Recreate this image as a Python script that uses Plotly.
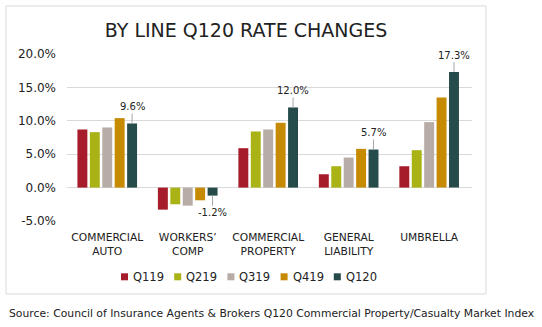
import plotly.graph_objects as go

# Lines of business and quarterly rate changes (%)
categories = ["COMMERCIAL<br>AUTO", "WORKERS’<br>COMP", "COMMERCIAL<br>PROPERTY",
              "GENERAL<br>LIABILITY", "UMBRELLA"]
quarters = ["Q119", "Q219", "Q319", "Q419", "Q120"]
q119 = [8.7, -3.3, 5.9, 2.0, 3.2]
q219 = [8.3, -2.5, 8.4, 3.2, 5.6]
q319 = [9.0, -2.7, 8.7, 4.5, 9.8]
q419 = [10.4, -1.9, 9.7, 5.8, 13.5]
q120 = [9.6, -1.2, 12.0, 5.7, 17.3]
series = [q119, q219, q319, q419, q120]
colors = ["#A61C2B", "#A9B316", "#B7ACA6", "#C68A03", "#264B4B"]
y_ticks = [-5, 0, 5, 10, 15, 20]
y_tick_labels = [f"{v:.1f}%" for v in y_ticks]

title_text = "BY LINE Q120 RATE CHANGES"
source_text = ("Source: Council of Insurance Agents & Brokers Q120 "
               "Commercial Property/Casualty Market Index")

FONT = "DejaVu Sans"
TEXT = "#222222"
GRID = "#D9D9D9"

# Page geometry in pixels
W, H = 542, 327
ML, MR, MT, MB = 67, 70, 54, 106
PW, PH = W - ML - MR, H - MT - MB
BARGAP, GROUPGAP = 0.228, 0.2


def px(x):
    return (x - ML) / PW


def py(y):
    return (H - MB - y) / PH


fig = go.Figure()
for name, vals, col in zip(quarters, series, colors):
    fig.add_trace(go.Bar(x=categories, y=vals, name=name, marker_color=col,
                         marker_line_width=0, showlegend=False))

# Value callouts on the latest quarter, with short leader lines
slot = (1 - BARGAP) / len(quarters)
offset = (len(quarters) - 1) / 2 * slot
annotations = []
for i, v in enumerate(q120):
    annotations.append(dict(
        x=i + offset, y=v, xref="x", yref="y",
        text=f"{v:.1f}%", showarrow=True, arrowhead=0, arrowwidth=1,
        arrowcolor="#A6A6A6", ax=0, ay=-17 if v >= 0 else 17, standoff=0,
        font=dict(family=FONT, size=10, color=TEXT)))

# Legend row
shapes = []
leg_x0, leg_pitch, leg_y = 121, 53.2, 276.8
for k, (name, col) in enumerate(zip(quarters, colors)):
    lx = leg_x0 + k * leg_pitch
    shapes.append(dict(type="rect", xref="paper", yref="paper",
                       x0=px(lx), x1=px(lx + 7), y0=py(leg_y + 3.5), y1=py(leg_y - 3.5),
                       fillcolor=col, line_width=0))
    annotations.append(dict(x=px(lx + 10), y=py(leg_y), xref="paper", yref="paper",
                            xanchor="left", yanchor="middle", showarrow=False,
                            text=name, font=dict(family=FONT, size=11.5, color=TEXT)))

# Chart frame
shapes.append(dict(type="rect", xref="paper", yref="paper",
                   x0=px(6), x1=px(486), y0=py(294), y1=py(6),
                   line=dict(color=GRID, width=1), fillcolor="rgba(0,0,0,0)"))

annotations.append(dict(x=px(7), y=py(313), xref="paper", yref="paper",
                        xanchor="left", yanchor="middle", showarrow=False,
                        text=source_text, font=dict(family=FONT, size=10.8, color=TEXT)))

fig.update_layout(
    width=W, height=H, margin=dict(l=ML, r=MR, t=MT, b=MB),
    paper_bgcolor="white", plot_bgcolor="white",
    barmode="group", bargap=BARGAP, bargroupgap=GROUPGAP,
    title=dict(text=title_text, xref="container", yref="container",
               x=246 / W, y=1 - 30 / H, xanchor="center", yanchor="middle",
               font=dict(family=FONT, size=19, color=TEXT)),
    font=dict(family=FONT, color=TEXT),
    xaxis=dict(showgrid=False, showline=False, ticks="", ticklabelstandoff=8,
               tickfont=dict(family=FONT, size=10.7, color=TEXT)),
    yaxis=dict(range=[-5, 20], tickmode="array", tickvals=y_ticks, ticktext=y_tick_labels,
               showgrid=True, gridcolor=GRID, gridwidth=1,
               zeroline=True, zerolinecolor=GRID, zerolinewidth=1,
               showline=False, ticks="", ticklabelstandoff=10,
               tickfont=dict(family=FONT, size=12, color=TEXT)),
    annotations=annotations, shapes=shapes,
)

fig.write_html("out.html")
